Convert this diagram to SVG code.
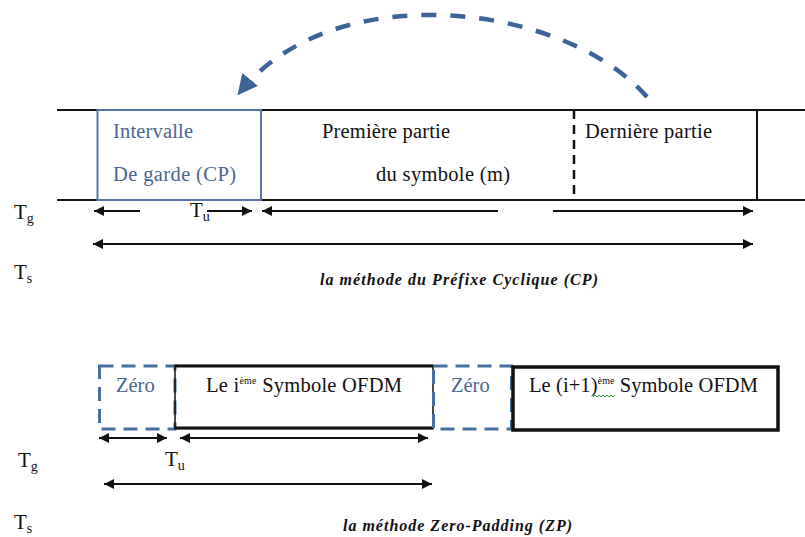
<svg xmlns="http://www.w3.org/2000/svg" width="805" height="537" viewBox="0 0 805 537">
<defs>
<marker id="ah" viewBox="0 0 10 10" refX="10" refY="5" markerWidth="10" markerHeight="10" markerUnits="userSpaceOnUse" orient="auto-start-reverse">
<path d="M0,0 L10,5 L0,10 z" fill="#111"/>
</marker>
<marker id="bh" viewBox="0 0 10 10" refX="8" refY="5" markerWidth="4.5" markerHeight="4.5" orient="auto">
<path d="M0,0 L10,5 L0,10 z" fill="#3c6497"/>
</marker>
</defs>
<style>
.t{font-family:"Liberation Serif","Times New Roman",serif;font-size:20.5px;fill:#111}
.b{fill:#4a6590}
.cap{font-family:"Liberation Serif","Times New Roman",serif;font-size:16px;font-style:italic;font-weight:bold;fill:#111}
.sym{font-family:"Liberation Serif","Times New Roman",serif;font-size:21px;fill:#111}
.sub{font-size:14px}
.ln{stroke:#111;stroke-width:2;fill:none}
.ar{stroke:#111;stroke-width:2;fill:none}
.dz{stroke:#46709e;stroke-width:3;fill:none;stroke-dasharray:14 8}
</style>
<rect width="805" height="537" fill="#fff"/>

<g id="cp-frame">
<line class="ln" x1="57" y1="110" x2="805" y2="110"/>
<line class="ln" x1="57" y1="200" x2="805" y2="200"/>
<line class="ln" x1="757" y1="110" x2="757" y2="200"/>
<line x1="574" y1="110" x2="574" y2="200" stroke="#111" stroke-width="2.5" stroke-dasharray="9 6"/>
</g>
<g id="guard">
<rect x="97.5" y="110" width="163.5" height="90" fill="#fff" stroke="#5576a5" stroke-width="2"/>
<text class="t b" x="113" y="138" textLength="80" lengthAdjust="spacing">Intervalle</text>
<text class="t b" x="113" y="181" textLength="123" lengthAdjust="spacing">De garde (CP)</text>
</g>
<g id="first">
<text class="t" x="322" y="138" textLength="128" lengthAdjust="spacing">Première partie</text>
<text class="t" x="376" y="181" textLength="134" lengthAdjust="spacing">du symbole (m)</text>
</g>
<g id="last">
<text class="t" x="585" y="138" textLength="127" lengthAdjust="spacing">Dernière partie</text>
</g>

<g id="connectors">
<path d="M647,97 C565,3 335,-25 240,92" stroke="#3c6497" stroke-width="4.5" fill="none" stroke-dasharray="15 14" marker-end="url(#bh)"/>
<line class="ar" x1="140" y1="211" x2="94" y2="211" marker-end="url(#ah)"/>
<line class="ar" x1="207" y1="211" x2="252" y2="211" marker-end="url(#ah)"/>
<line class="ar" x1="498" y1="211" x2="262" y2="211" marker-end="url(#ah)"/>
<line class="ar" x1="553" y1="211" x2="753" y2="211" marker-end="url(#ah)"/>
<line class="ar" x1="93" y1="244" x2="753" y2="244" marker-start="url(#ah)" marker-end="url(#ah)"/>
<line class="ar" x1="99" y1="438" x2="167" y2="438" marker-start="url(#ah)" marker-end="url(#ah)"/>
<line class="ar" x1="180" y1="438" x2="428" y2="438" marker-start="url(#ah)" marker-end="url(#ah)"/>
<line class="ar" x1="104" y1="484" x2="432" y2="484" marker-start="url(#ah)" marker-end="url(#ah)"/>
</g>

<g id="labels-cp">
<text class="sym" x="14" y="219">T<tspan class="sub" dy="4">g</tspan></text>
<text class="sym" x="14" y="279">T<tspan class="sub" dy="4">s</tspan></text>
<text class="sym" x="190" y="217">T<tspan class="sub" dy="4">u</tspan></text>
<text class="cap" x="320" y="285" textLength="278" lengthAdjust="spacing">la méthode  du Préfixe Cyclique (CP)</text>
</g>

<g id="zero1">
<rect class="dz" x="99.5" y="366" width="75.5" height="63"/>
<text class="t b" x="116" y="392">Zéro</text>
</g>
<g id="sym1">
<rect x="175" y="365.5" width="258" height="63" fill="none" stroke="#111" stroke-width="1.5"/>
<line x1="175" y1="366" x2="433" y2="366" stroke="#111" stroke-width="3"/>
<line x1="175" y1="428" x2="433" y2="428" stroke="#111" stroke-width="3"/>
<text class="t" x="206" y="392" textLength="196" lengthAdjust="spacing">Le i<tspan font-size="10" dy="-8">ème</tspan><tspan dy="8"> Symbole OFDM</tspan></text>
</g>
<g id="zero2">
<rect class="dz" x="433.5" y="366" width="78" height="63"/>
<text class="t b" x="451" y="392">Zéro</text>
</g>
<g id="sym2">
<rect x="513" y="367" width="265" height="63" fill="none" stroke="#111" stroke-width="3.5"/>
<text class="t" x="529" y="392" textLength="229" lengthAdjust="spacing">Le (i+1)<tspan font-size="10" dy="-8">ème</tspan><tspan dy="8"> Symbole OFDM</tspan></text>
<path d="M593,397 l2,-2 l2,2 l2,-2 l2,2 l2,-2 l2,2 l2,-2 l2,2 l2,-2 l2,2 l2,-2" stroke="#3a9a3a" stroke-width="1" fill="none"/>
</g>

<g id="labels-zp">
<text class="sym" x="18" y="467">T<tspan class="sub" dy="4">g</tspan></text>
<text class="sym" x="14" y="529">T<tspan class="sub" dy="4">s</tspan></text>
<text class="sym" x="165" y="466">T<tspan class="sub" dy="4">u</tspan></text>
<text class="cap" x="343" y="531" textLength="229" lengthAdjust="spacing">la méthode Zero-Padding  (ZP)</text>
</g>
</svg>
